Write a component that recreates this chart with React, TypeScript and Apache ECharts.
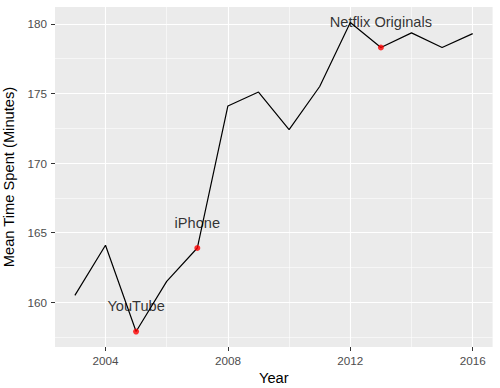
import React, { useEffect, useRef } from "react";
import * as echarts from "echarts";

const years = [2003, 2004, 2005, 2006, 2007, 2008, 2009, 2010, 2011, 2012, 2013, 2014, 2015, 2016];
const meanMinutes = [160.5, 164.1, 157.9, 161.5, 163.9, 174.1, 175.1, 172.4, 175.5, 180.1, 178.3, 179.35, 178.3, 179.3];
const highlightYears = [2005, 2007, 2013];
const annotationLabels = ["YouTube", "iPhone", "Netflix Originals"];
const annotationYears = [2005, 2007, 2013];
const annotationY = [159.7, 165.7, 180.1];
const xTicks = [2004, 2008, 2012, 2016];
const xMinor = [2006, 2010, 2014];
const yTicks = [160, 165, 170, 175, 180];
const yMinor = [157.5, 162.5, 167.5, 172.5, 177.5];

const FONT = "'Liberation Sans', Arial, Helvetica, sans-serif";

export default function App() {
  const ref = useRef<HTMLDivElement>(null);
  useEffect(() => {
    if (!ref.current) return;
    const chart = echarts.init(ref.current, undefined, { renderer: "svg" });
    const xMin = 2002.35, xMax = 2016.65;
    const yMin = 156.79, yMax = 181.21;
    const grid = {
      left: 55, right: 7.4, top: 7, bottom: 41, show: true, backgroundColor: "#EBEBEB", borderWidth: 0,
      containLabel: false, outerBoundsMode: "none",
    };
    const lineData = years.map((y, i) => [y, meanMinutes[i]]);
    const pointData = highlightYears.map((y) => [y, meanMinutes[years.indexOf(y)]]);
    const annData = annotationYears.map((y, i) => ({ value: [y, annotationY[i]], name: annotationLabels[i] }));
    const plain = (v: number) => String(v);
    chart.setOption({
      animation: false,
      textStyle: { fontFamily: FONT },
      grid,
      xAxis: [
        {
          type: "value", min: xMin, max: xMax,
          axisLine: { show: false },
          axisTick: { show: true, length: 4, lineStyle: { color: "#333333", width: 1 }, customValues: xTicks },
          axisLabel: { customValues: xTicks, formatter: plain, color: "#4D4D4D", fontSize: 11.7, margin: 7, fontFamily: FONT },
          splitLine: { show: true, lineStyle: { color: "#FFFFFF", width: 1.1 } },
          name: "Year", nameLocation: "middle", nameGap: 21,
          nameTextStyle: { color: "#000000", fontSize: 14.7, fontFamily: FONT, verticalAlign: "top" },
        },
        {
          type: "value", min: xMin, max: xMax, position: "bottom",
          axisLine: { show: false },
          axisTick: { show: false, customValues: xMinor },
          axisLabel: { show: false, customValues: xMinor },
          splitLine: { show: true, lineStyle: { color: "#FFFFFF", width: 0.55 } },
        },
      ],
      yAxis: [
        {
          type: "value", min: yMin, max: yMax,
          axisLine: { show: false },
          axisTick: { show: true, length: 4, lineStyle: { color: "#333333", width: 1 }, customValues: yTicks },
          axisLabel: { customValues: yTicks, formatter: plain, color: "#4D4D4D", fontSize: 11.7, margin: 8, fontFamily: FONT },
          splitLine: { show: true, lineStyle: { color: "#FFFFFF", width: 1.1 } },
          name: "Mean Time Spent (Minutes)", nameLocation: "middle", nameGap: 35,
          nameTextStyle: { color: "#000000", fontSize: 14.7, fontFamily: FONT },
        },
        {
          type: "value", min: yMin, max: yMax, position: "left",
          axisLine: { show: false },
          axisTick: { show: false, customValues: yMinor },
          axisLabel: { show: false, customValues: yMinor },
          splitLine: { show: true, lineStyle: { color: "#FFFFFF", width: 0.55 } },
        },
      ],
      series: [
        {
          type: "line", data: lineData, showSymbol: false, symbol: "none",
          lineStyle: { color: "#000000", width: 1.2 }, z: 3,
        },
        {
          type: "scatter", data: pointData, symbolSize: 6,
          itemStyle: { color: "#FF0000" }, z: 4,
        },
        {
          type: "scatter", data: annData, symbolSize: 0, z: 5,
          label: {
            show: true, position: "inside", formatter: (p: any) => p.name,
            color: "#000000", fontSize: 14.6, fontFamily: FONT,
          },
        },
      ],
    });
    return () => chart.dispose();
  }, []);
  return <div ref={ref} style={{ width: 500, height: 388, position: "absolute", left: 0, top: 0, background: "#FFFFFF" }} />;
}
